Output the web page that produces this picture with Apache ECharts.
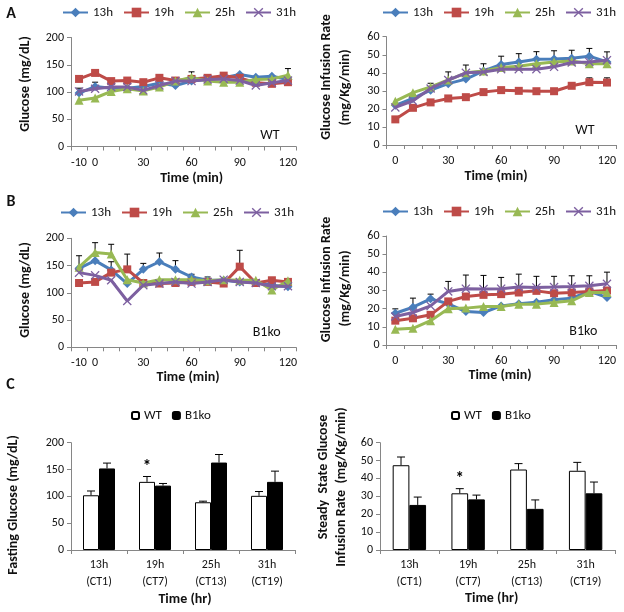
<!DOCTYPE html>
<html><head><meta charset="utf-8">
<script src="https://cdn.jsdelivr.net/npm/echarts@6/dist/echarts.min.js"></script>
<style>html,body{margin:0;padding:0;background:#fff}#c{width:624px;height:612px}</style>
</head><body><div id="c"></div>
<script>
const FONT = 'Carlito, Lato, "Open Sans", sans-serif';

// ---- categories / tick labels
const seriesNames = ['13h', '19h', '25h', '31h'];
const timesGlu = ['-10', '0', '10', '20', '30', '40', '50', '60', '70', '80', '90', '100', '110', '120'];
const timesGir = ['0', '10', '20', '30', '40', '50', '60', '70', '80', '90', '100', '110', '120'];
const shownGluLabels = ['-10', '0', '30', '60', '90', '120'];
const shownGirLabels = ['0', '30', '60', '90', '120'];
const barTimes = ['13h', '19h', '25h', '31h'];
const barCT = ['(CT1)', '(CT7)', '(CT13)', '(CT19)'];
const barGroups = ['WT', 'B1ko'];

// ---- A: WT glucose (mg/dL)
const wtGlu13 = [98, 110, 107, 107, 110, 116, 112, 120, 123, 126, 132, 127, 129, 123];
const wtGlu19 = [124, 135, 120, 121, 118, 126, 121, 124, 126, 130, 126, 117, 115, 118];
const wtGlu25 = [85, 89, 101, 106, 102, 109, 120, 127, 120, 118, 118, 123, 124, 131];
const wtGlu31 = [101, 106, 109, 109, 103, 112, 120, 120, 123, 124, 121, 112, 117, 121];
const wtGlu13Err = [9, 8, null, null, null, null, null, null, null, null, null, null, null, null];
const wtGlu19Err = [null, null, null, null, null, null, null, null, null, null, null, null, null, null];
const wtGlu25Err = [null, null, null, null, null, null, null, 10, null, null, null, null, null, 12];
const wtGlu31Err = [null, null, null, null, null, null, null, null, null, null, null, null, null, null];

// ---- A: WT glucose infusion rate (mg/Kg/min)
const wtGir13 = [22, 25.8, 30.4, 34, 36.5, 41, 44.6, 46, 47.5, 47.7, 48, 49.2, 46];
const wtGir19 = [14.2, 20.6, 23.6, 25.8, 26.5, 29.3, 30.4, 30, 29.8, 29.8, 32.8, 34.8, 34.6];
const wtGir25 = [24.3, 29, 32.2, 36, 40, 41, 43, 43.6, 45, 46, 46.6, 45, 45];
const wtGir31 = [20.8, 24.5, 31.3, 36, 40, 40.5, 42, 42, 42, 43.3, 45.7, 46, 47];
const wtGir13Err = [null, null, null, null, null, 4, 4.6, 4.6, 4.2, 4.5, 4.5, 4.3, 5.6];
const wtGir19Err = [null, null, null, null, null, null, null, null, null, null, null, 2.4, 2.6];
const wtGir25Err = [null, null, 2, null, null, null, null, null, null, null, null, null, null];
const wtGir31Err = [null, null, null, 4.5, 4.3, null, null, null, null, null, null, null, null];

// ---- B: B1ko glucose (mg/dL)
const koGlu13 = [145, 159, 142, 117, 143, 157, 143, 129, 123, 123, 120, 119, 114, 111];
const koGlu19 = [118, 120, 137, 143, 118, 117, 118, 120, 120, 117, 148, 118, 123, 120];
const koGlu25 = [147, 174, 171, 124, 118, 124, 124, 124, 122, 124, 123, 123, 105, 122];
const koGlu31 = [137, 132, 123, 85, 114, 117, 120, 117, 120, 124, 120, 118, 112, 112];
const koGlu13Err = [null, null, null, null, 11, 16, 16, 5, null, null, null, null, null, null];
const koGlu19Err = [null, null, 20, 28, null, null, null, null, null, null, 30, null, null, null];
const koGlu25Err = [21, 18, 18, null, null, null, null, null, 7, null, null, null, null, null];
const koGlu31Err = [null, null, null, null, null, null, null, null, null, null, null, null, null, null];

// ---- B: B1ko glucose infusion rate (mg/Kg/min)
const koGir13 = [17.5, 20.8, 25.4, 22.7, 18.4, 17.9, 21.5, 22.7, 23.6, 24.9, 25.8, 29.5, 26.2];
const koGir19 = [13.4, 14.7, 16.6, 24, 26.7, 27.6, 28, 28.9, 29.8, 28.5, 28.9, 29.5, 30];
const koGir25 = [8.7, 9.2, 13.4, 19.9, 20.3, 21.2, 21.2, 22.5, 22.5, 23.4, 24.3, 28.9, 28.9];
const koGir31 = [15.7, 17.9, 21.5, 29.5, 31, 30.8, 31, 31.9, 31.7, 31.9, 32.2, 32.6, 33.7];
const koGir13Err = [2.4, 5, 2.6, null, null, null, null, null, null, null, null, null, null];
const koGir19Err = [null, null, null, null, null, null, null, null, null, null, null, null, null];
const koGir25Err = [null, null, null, null, null, null, null, null, null, null, null, null, null];
const koGir31Err = [null, null, null, 5.5, 7.5, 7.5, 6.2, 7.1, 6.1, 5.9, 5.9, 5.5, 6.4];

// ---- C: bars
const fastWT = [102, 127, 89, 101];
const fastWTErr = [8, 10, 2, 8];
const fastKO = [152, 120, 163, 127];
const fastKOErr = [10, 4, 15, 20];
const sgirWT = [47.4, 31.7, 45, 44.3];
const sgirWTErr = [4.6, 2.6, 3.3, 4.7];
const sgirKO = [25.2, 28.3, 23, 31.7];
const sgirKOErr = [4.4, 2.4, 5, 6.3];
const sigMarks = ['', '*', '', ''];

// ---- styles
const colors = ['#4A7EBB', '#BE4B48', '#98B954', '#7D60A0'];
const XMARK = 'path://M0,1 L1,0 L5,4 L9,0 L10,1 L6,5 L10,9 L9,10 L5,6 L1,10 L0,9 L4,5 Z';
const symbols = ['diamond', 'rect', 'triangle', XMARK];
const symSizes = [9, 8, 9, 9];
const AXC = '#868686', TXC = '#111';

const grids = [
  {left: 71, top: 37.5, width: 225, height: 109},
  {left: 386.5, top: 36.7, width: 229.3, height: 108.3},
  {left: 71, top: 238.3, width: 225, height: 109},
  {left: 386.5, top: 236, width: 229.3, height: 109},
  {left: 71, top: 442.7, width: 224, height: 107.3},
  {left: 380, top: 442.7, width: 235, height: 107.3}
];

function catAxis(gi, cats, shown) {
  return {
    type: 'category', gridIndex: gi, data: cats, boundaryGap: true,
    axisLine: {lineStyle: {color: AXC, width: 1}},
    axisTick: {show: true, alignWithLabel: false, interval: 0, length: 4, lineStyle: {color: AXC}},
    axisLabel: {
      interval: (i, v) => shown.indexOf(v) >= 0,
      margin: 10, fontSize: 12, color: TXC, fontFamily: FONT
    },
    splitLine: {show: false}
  };
}
function valAxis(gi, max, interval) {
  return {
    type: 'value', gridIndex: gi, min: 0, max: max, interval: interval,
    axisLine: {show: true, lineStyle: {color: AXC, width: 1}},
    axisTick: {show: true, length: 4, lineStyle: {color: AXC}},
    axisLabel: {margin: 7, fontSize: 12, color: TXC, fontFamily: FONT},
    splitLine: {show: false}
  };
}

function errRender(capHalf, offset, marks) {
  return function (params, api) {
    const i = api.value(0), v = api.value(1), e = api.value(2);
    const p0 = api.coord([i, v]);
    const p1 = api.coord([i, v + e]);
    const x = p0[0] + offset;
    const ch = [
      {type: 'line', shape: {x1: x, y1: p0[1], x2: x, y2: p1[1]}, style: {stroke: '#000', lineWidth: 1}},
      {type: 'line', shape: {x1: x - capHalf, y1: p1[1], x2: x + capHalf, y2: p1[1]}, style: {stroke: '#000', lineWidth: 1}}
    ];
    if (marks && marks[i]) {
      ch.push({type: 'text', x: x, y: p1[1] - 9,
        style: {text: marks[i], fill: '#000', font: 'bold 17px ' + FONT, align: 'center', verticalAlign: 'middle'}});
    }
    return {type: 'group', children: ch};
  };
}
function errData(vals, errs) {
  const out = [];
  vals.forEach((v, i) => { if (errs[i] != null) out.push([i, v, errs[i]]); });
  return out;
}

const series = [];
function addLinePanel(gi, datas, errs) {
  datas.forEach((d, k) => {
    series.push({
      type: 'custom', name: seriesNames[k] + ' err', xAxisIndex: gi, yAxisIndex: gi,
      renderItem: errRender(3, 0, null), encode: {x: 0, y: 1},
      data: errData(d, errs[k]), z: 1, clip: false, silent: true
    });
  });
  datas.forEach((d, k) => {
    series.push({
      type: 'line', name: seriesNames[k], xAxisIndex: gi, yAxisIndex: gi, data: d,
      symbol: symbols[k], symbolSize: symSizes[k], showAllSymbol: true,
      lineStyle: {color: colors[k], width: 3},
      itemStyle: {color: colors[k], borderWidth: 0},
      z: 2 + k
    });
  });
}
addLinePanel(0, [wtGlu13, wtGlu19, wtGlu25, wtGlu31], [wtGlu13Err, wtGlu19Err, wtGlu25Err, wtGlu31Err]);
addLinePanel(1, [wtGir13, wtGir19, wtGir25, wtGir31], [wtGir13Err, wtGir19Err, wtGir25Err, wtGir31Err]);
addLinePanel(2, [koGlu13, koGlu19, koGlu25, koGlu31], [koGlu13Err, koGlu19Err, koGlu25Err, koGlu31Err]);
addLinePanel(3, [koGir13, koGir19, koGir25, koGir31], [koGir13Err, koGir19Err, koGir25Err, koGir31Err]);

function addBarPanel(gi, wt, wtErr, ko, koErr, bw) {
  series.push({type: 'bar', name: 'WT', xAxisIndex: gi, yAxisIndex: gi, data: wt, barWidth: bw, barGap: '0%',
    itemStyle: {color: '#fff', borderColor: '#000', borderWidth: 1}, z: 2});
  series.push({type: 'bar', name: 'B1ko', xAxisIndex: gi, yAxisIndex: gi, data: ko, barWidth: bw, barGap: '0%',
    itemStyle: {color: '#000', borderColor: '#000', borderWidth: 1}, z: 2});
  series.push({type: 'custom', name: 'WT err', xAxisIndex: gi, yAxisIndex: gi, renderItem: errRender(4, -bw / 2, sigMarks),
    encode: {x: 0, y: 1}, data: errData(wt, wtErr), z: 3, clip: false, silent: true});
  series.push({type: 'custom', name: 'B1ko err', xAxisIndex: gi, yAxisIndex: gi, renderItem: errRender(4, bw / 2, null),
    encode: {x: 0, y: 1}, data: errData(ko, koErr), z: 3, clip: false, silent: true});
}
addBarPanel(4, fastWT, fastWTErr, fastKO, fastKOErr, 16);
addBarPanel(5, sgirWT, sgirWTErr, sgirKO, sgirKOErr, 16.7);

function barXAxis(gi) {
  const a = catAxis(gi, barTimes, barTimes);
  a.axisLabel = {interval: 0, margin: 6, fontSize: 12, lineHeight: 17, color: TXC, fontFamily: FONT,
    formatter: (v, i) => v + '\n' + barCT[i]};
  return a;
}

const lineLegend = (left, top) => ({
  data: seriesNames, left: left, top: top, padding: 0, width: 260, itemGap: 10, itemWidth: 25, itemHeight: 12,
  textStyle: {fontSize: 13, color: TXC, fontFamily: FONT}, selectedMode: false
});
const barLegend = (left, top) => ({
  data: barGroups, left: left, top: top, padding: 0, itemGap: 10, itemWidth: 7, itemHeight: 7,
  textStyle: {fontSize: 13, color: TXC, fontFamily: FONT}, selectedMode: false
});

function txt(x, y, s, size, bold, rot) {
  return {type: 'text', x: x, y: y, rotation: rot ? Math.PI / 2 : 0,
    style: {text: s, fill: TXC, font: (bold ? 'bold ' : '') + size + 'px ' + FONT, align: 'center', verticalAlign: 'middle'}};
}
const graphics = [
  txt(11, 14, 'A', 16, true), txt(11, 201.7, 'B', 16, true), txt(10.5, 384.5, 'C', 16, true),
  txt(25, 84, 'Glucose (mg/dL)', 14, true, true),
  txt(326.7, 77, 'Glucose Infusion Rate', 14, true, true),
  txt(345, 87.5, '(mg/Kg/min)', 14, true, true),
  txt(191.7, 178.3, 'Time (min)', 14, true), txt(496, 176.7, 'Time (min)', 14, true),
  txt(270, 135, 'WT', 14, false), txt(585, 130, 'WT', 14, false),
  txt(25, 290, 'Glucose (mg/dL)', 14, true, true),
  txt(326.7, 279.5, 'Glucose Infusion Rate', 14, true, true),
  txt(345, 288.5, '(mg/Kg/min)', 14, true, true),
  txt(188, 377.3, 'Time (min)', 14, true), txt(500, 375.7, 'Time (min)', 14, true),
  txt(266.7, 332.7, 'B1ko', 14, false), txt(583.3, 331.7, 'B1ko', 14, false),
  txt(13.3, 505, 'Fasting Glucose (mg/dL)', 14, true, true),
  txt(323.3, 477, 'Steady  State Glucose', 14, true, true),
  txt(341.7, 487, 'Infusion Rate  (mg/Kg/min)', 14, true, true),
  txt(185, 599.3, 'Time (hr)', 14, true), txt(491.7, 598.3, 'Time (hr)', 14, true)
];

const chart = echarts.init(document.getElementById('c'), null, {renderer: 'canvas'});
chart.setOption({
  animation: false,
  backgroundColor: '#fff',
  textStyle: {fontFamily: FONT},
  grid: grids,
  xAxis: [
    catAxis(0, timesGlu, shownGluLabels), catAxis(1, timesGir, shownGirLabels),
    catAxis(2, timesGlu, shownGluLabels), catAxis(3, timesGir, shownGirLabels),
    barXAxis(4), barXAxis(5)
  ],
  yAxis: [valAxis(0, 200, 50), valAxis(1, 60, 10), valAxis(2, 200, 50), valAxis(3, 60, 10), valAxis(4, 200, 50), valAxis(5, 60, 10)],
  legend: [lineLegend(62, 6), lineLegend(382, 6), lineLegend(60, 206), lineLegend(382, 205), barLegend(131, 409), barLegend(451, 409)],
  series: series,
  graphic: graphics
});
</script>
</body></html>
